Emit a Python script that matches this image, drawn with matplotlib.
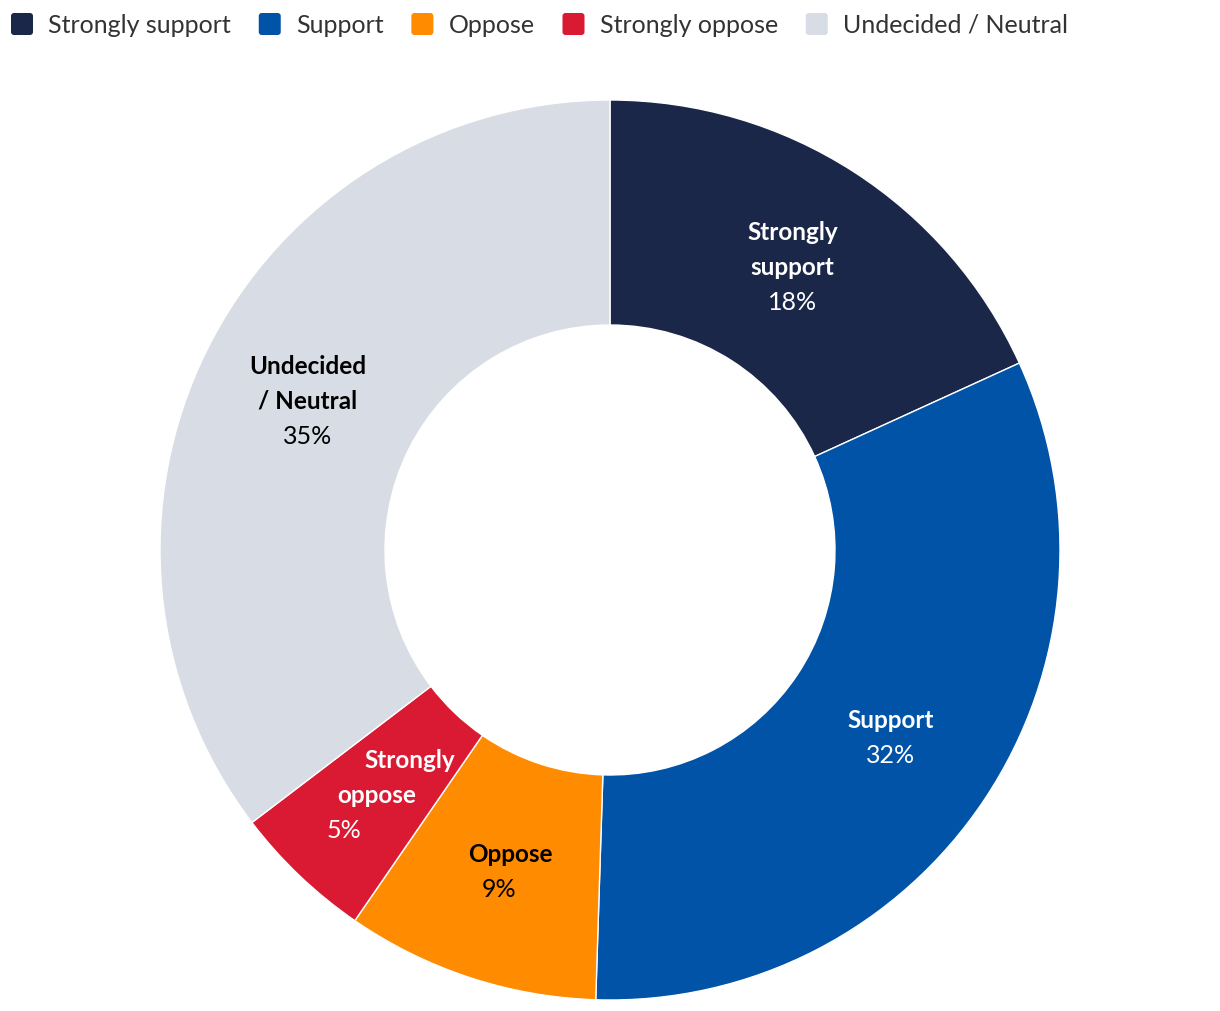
import numpy as np
import matplotlib.pyplot as plt
from matplotlib.patches import FancyBboxPatch

categories = ['Strongly support', 'Support', 'Oppose', 'Strongly oppose', 'Undecided / Neutral']
slice_labels = ['Strongly\nsupport', 'Support', 'Oppose', 'Strongly\noppose', 'Undecided\n/ Neutral']
values = [18, 32, 9, 5, 35]
colors = ['#1b2748', '#0053a6', '#ff8c00', '#d91a32', '#d8dce4']
text_colors = ['white', 'white', 'black', 'white', 'black']
# horizontal nudge per line (px) so the small slices keep their text inside
label_shear = [0, 0, 12, 33, 0]

plt.rcParams['font.family'] = ['Lato', 'DejaVu Sans']

W, H = 1220, 1012
fig = plt.figure(figsize=(W / 100, H / 100), dpi=100)
ax = fig.add_axes([0, 0, 1, 1])
ax.set_xlim(0, W)
ax.set_ylim(0, H)
ax.set_aspect('equal')
ax.axis('off')

cx, cy = 610, H - 551
R, r_in = 450, 225
wedges, _ = ax.pie(values, colors=colors, startangle=90, counterclock=False,
                   radius=R, center=(cx, cy),
                   wedgeprops=dict(width=R - r_in, edgecolor='white', linewidth=1))
ax.set_xlim(0, W)
ax.set_ylim(0, H)

total = sum(values)
r_mid = (R + r_in) / 2
for w, lab, v, tc, sh in zip(wedges, slice_labels, values, text_colors, label_shear):
    ang = np.deg2rad((w.theta1 + w.theta2) / 2)
    x = cx + r_mid * np.cos(ang)
    y = cy + r_mid * np.sin(ang)
    lines = lab.split('\n') + [f'{round(v / total * 100)}%']
    n = len(lines)
    step = 35
    for i, ln in enumerate(lines):
        k = (n - 1) / 2 - i
        last = i == n - 1
        ax.text(x + sh * k, y + step * k, ln, ha='center', va='center',
                fontsize=18 if last else 17.5,
                fontweight='normal' if last else 'bold', color=tc)

# legend along the top
fig.canvas.draw()
renderer = fig.canvas.get_renderer()
x0 = 11
ly = H - 25
for cat, col in zip(categories, colors):
    box = FancyBboxPatch((x0, ly - 11), 22, 22, boxstyle='round,pad=0,rounding_size=3',
                         facecolor=col, edgecolor='none')
    ax.add_patch(box)
    t = ax.text(x0 + 37, ly, cat, ha='left', va='center', fontsize=18, color='#333333')
    bb = t.get_window_extent(renderer=renderer)
    x0 = x0 + 37 + bb.width + 28

fig.savefig('out.png', dpi=100)
